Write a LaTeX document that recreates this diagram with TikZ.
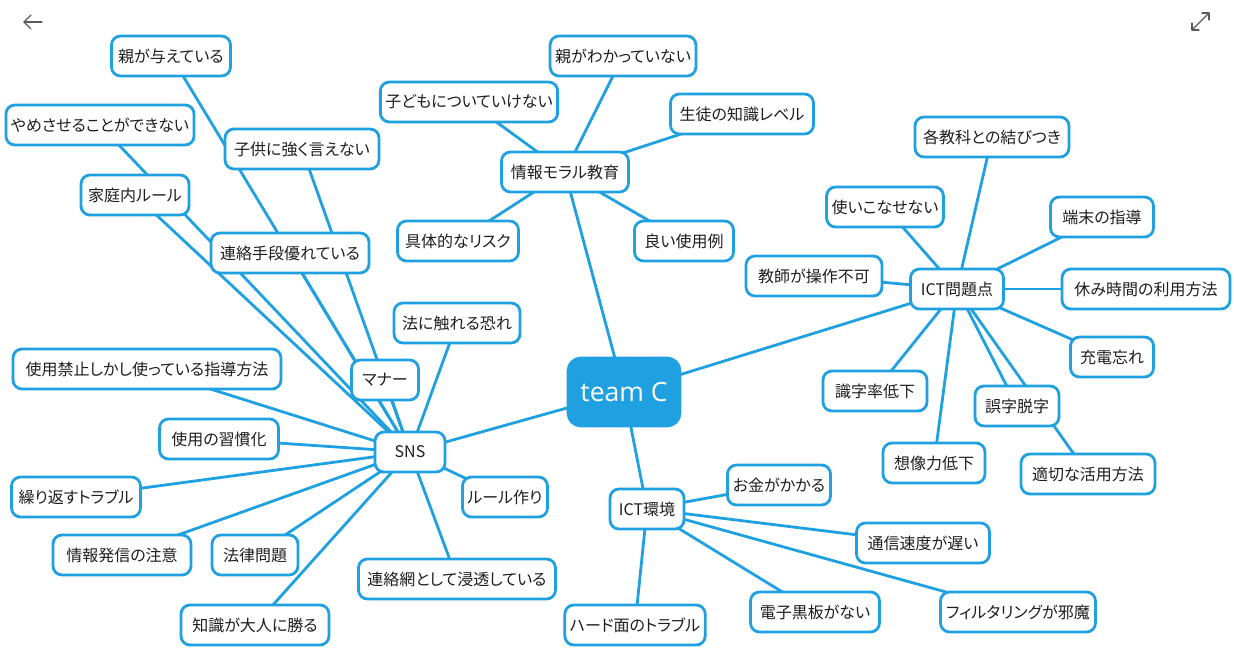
\documentclass[tikz,border=0pt]{standalone}
\usepackage{fontspec}
\setmainfont{Noto Sans CJK JP}[RawFeature=+palt]
\newfontfamily\latinfont{Open Sans}
\usetikzlibrary{backgrounds}
\definecolor{mmblue}{RGB}{30,160,225}
\definecolor{mmtext}{RGB}{30,30,30}
\definecolor{icongray}{RGB}{90,90,90}
\tikzset{
  leaf/.style={draw=mmblue, line width=2.8pt, rounded corners=9pt, fill=white,
    inner xsep=5pt, inner ysep=0pt, minimum height=40pt, text=mmtext,
    font=\fontsize{16}{19}\selectfont},
  hub/.style={draw=mmblue, fill=mmblue, line width=2.8pt, rounded corners=13pt,
    minimum width=112pt, minimum height=68pt, text=white,
    font=\latinfont\fontsize{26.5}{31}\selectfont},
  link/.style={draw=mmblue, line width=2.8pt},
  icon/.style={draw=icongray, line width=1.3pt, line cap=round, line join=round}
}
\begin{document}
\begin{tikzpicture}[x=1pt,y=-1pt]
\useasboundingbox (0,0) rectangle (1234,648);
% hub
\node[hub] (tc) at (624,392) {team C};
% SNS branch
\node[leaf, minimum width=70pt] (sns) at (410,452) {SNS};
\node[leaf, minimum width=119pt] (s1) at (171,56) {親が与えている};
\node[leaf, minimum width=181pt] (s2) at (100,125) {やめさせることができない};
\node[leaf, minimum width=154pt] (s3) at (302,149) {子供に強く言えない};
\node[leaf, minimum width=108pt] (s4) at (135,195) {家庭内ルール};
\node[leaf, minimum width=158pt] (s5) at (290,253) {連絡手段優れている};
\node[leaf, minimum width=126pt] (s6) at (457,323) {法に触れる恐れ};
\node[leaf, minimum width=268pt] (s7) at (147,369) {使用禁止しかし使っている指導方法};
\node[leaf, minimum width=67pt] (s8) at (385,380) {マナー};
\node[leaf, minimum width=119pt] (s9) at (219,439) {使用の習慣化};
\node[leaf, minimum width=129pt] (s10) at (76,497) {繰り返すトラブル};
\node[leaf, minimum width=138pt] (s11) at (122,555) {情報発信の注意};
\node[leaf, minimum width=86pt] (s12) at (255,555) {法律問題};
\node[leaf, minimum width=83pt] (s13) at (505,497) {ルール作り};
\node[leaf, minimum width=197pt] (s14) at (457,579) {連絡網として浸透している};
\node[leaf, minimum width=148pt] (s15) at (255,625) {知識が大人に勝る};
% moral education branch
\node[leaf, minimum width=127pt] (m0) at (565,172) {情報モラル教育};
\node[leaf, minimum width=171pt] (m1) at (469,102) {子どもについていけない};
\node[leaf, minimum width=145pt] (m2) at (623,56) {親がわかっていない};
\node[leaf, minimum width=143pt] (m3) at (742,114) {生徒の知識レベル};
\node[leaf, minimum width=121pt] (m4) at (458,241) {具体的なリスク};
\node[leaf, minimum width=99pt] (m5) at (684,241) {良い使用例};
% ICT problems branch
\node[leaf, minimum width=93pt] (p0) at (957,289) {ICT問題点};
\node[leaf, minimum width=154pt] (p1) at (992,137) {各教科との結びつき};
\node[leaf, minimum width=116pt] (p2) at (885,207) {使いこなせない};
\node[leaf, minimum width=103pt] (p3) at (1102,217) {端末の指導};
\node[leaf, minimum width=136pt] (p4) at (814,276) {教師が操作不可};
\node[leaf, minimum width=168pt] (p5) at (1146,289) {休み時間の利用方法};
\node[leaf, minimum width=83pt] (p6) at (1112,357) {充電忘れ};
\node[leaf, minimum width=104pt] (p7) at (875,391) {識字率低下};
\node[leaf, minimum width=84pt] (p8) at (1017,406) {誤字脱字};
\node[leaf, minimum width=102pt] (p9) at (934,463) {想像力低下};
\node[leaf, minimum width=134pt] (p10) at (1088,474) {適切な活用方法};
% ICT environment branch
\node[leaf, minimum width=74pt] (e0) at (647,509) {ICT環境};
\node[leaf, minimum width=103pt] (e1) at (779,485) {お金がかかる};
\node[leaf, minimum width=133pt] (e2) at (923,543) {通信速度が遅い};
\node[leaf, minimum width=129pt] (e3) at (815,612) {電子黒板がない};
\node[leaf, minimum width=155pt] (e4) at (1018,612) {フィルタリングが邪魔};
\node[leaf, minimum width=134pt] (e5) at (635,625) {ハード面のトラブル};
% connectors behind nodes
\begin{pgfonlayer}{background}
\foreach \n in {sns,m0,p0,e0} \draw[link] (tc.center) -- (\n.center);
\foreach \n in {s1,s2,s3,s4,s5,s6,s7,s8,s9,s10,s11,s12,s13,s14,s15}
  \draw[link] (sns.center) -- (\n.center);
\foreach \n in {m1,m2,m3,m4,m5} \draw[link] (m0.center) -- (\n.center);
\foreach \n in {p1,p2,p3,p4,p5,p6,p7,p8,p9,p10} \draw[link] (p0.center) -- (\n.center);
\foreach \n in {e1,e2,e3,e4,e5} \draw[link] (e0.center) -- (\n.center);
\end{pgfonlayer}
% window icons
\draw[icon] (42,22) -- (24,22);
\draw[icon] (31,15) -- (24,22) -- (31,29);
\draw[icon] (1192,30) -- (1209,13);
\draw[icon] (1202,13) -- (1209,13) -- (1209,20);
\draw[icon] (1192,23) -- (1192,30) -- (1199,30);
\end{tikzpicture}
\end{document}
